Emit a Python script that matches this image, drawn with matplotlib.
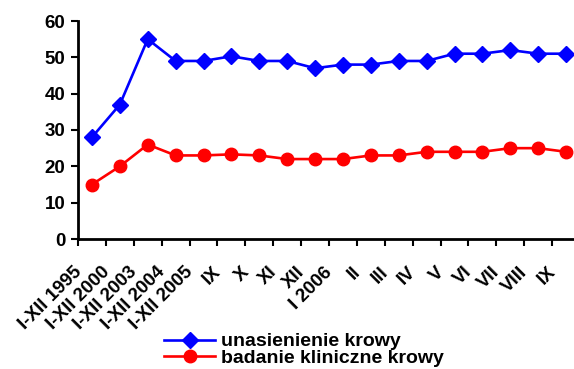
import matplotlib as mpl
mpl.use('Agg')
import matplotlib.pyplot as plt
import matplotlib.transforms as mtransforms
import numpy as np

categories = ['I-XII 1995', 'I-XII 2000', 'I-XII 2003', 'I-XII 2004', 'I-XII 2005',
              'IX', 'X', 'XI', 'XII', 'I 2006', 'II', 'III', 'IV', 'V', 'VI', 'VII', 'VIII', 'IX']
unasienienie = [28, 37, 55, 49, 49, 50.3, 49, 49, 47, 48, 48, 49, 49, 51, 51, 52, 51, 51]
badanie = [15, 20, 26, 23, 23, 23.3, 23, 22, 22, 22, 23, 23, 24, 24, 24, 25, 25, 24]
y_ticks = [0, 10, 20, 30, 40, 50, 60]

plt.rcParams['font.family'] = ['Liberation Sans', 'DejaVu Sans']
plt.rcParams['font.weight'] = 'bold'

fig = plt.figure(figsize=(5.74, 3.69), dpi=100)
ax = fig.add_axes([78 / 574, 1 - 239 / 369, 502 / 574, 218 / 369])

x = np.arange(len(categories))
ax.plot(x, unasienienie, color='#0000ff', lw=1.9, marker='D', ms=8,
        label='unasienienie krowy', clip_on=False)
ax.plot(x, badanie, color='#ff0000', lw=1.9, marker='o', ms=9,
        label='badanie kliniczne krowy', clip_on=False)

ax.set_xlim(-0.5, len(categories) - 0.5)
ax.set_ylim(0, 60)
ax.set_yticks(y_ticks)
ax.set_yticklabels([str(v) for v in y_ticks], fontsize=13.5, fontweight='bold')

# ticks on category boundaries, labels at category centres
ax.set_xticks(np.arange(len(categories) + 1) - 0.5)
ax.set_xticklabels([])
ax.set_xticks(x, minor=True)
ax.set_xticklabels(categories, minor=True, fontsize=13.5, fontweight='bold',
                   rotation=45, ha='right', va='center', rotation_mode='anchor')
ax.tick_params(axis='x', which='minor', length=0, pad=22)
ax.tick_params(axis='x', which='major', direction='out', length=5, width=1.5)
ax.tick_params(axis='y', direction='out', length=5, width=1.5, pad=4)
shift = mtransforms.ScaledTranslation(-13 / 100, 0, fig.dpi_scale_trans)
for lbl in ax.get_xticklabels(minor=True):
    lbl.set_transform(lbl.get_transform() + shift)

for side in ['top', 'right']:
    ax.spines[side].set_visible(False)
for side in ['left', 'bottom']:
    ax.spines[side].set_linewidth(2)

leg = fig.legend(loc='center', bbox_to_anchor=(304 / 574, 1 - 350 / 369), frameon=False,
                 handlelength=2.6, handletextpad=0.3, labelspacing=-0.05,
                 borderpad=0, prop={'weight': 'bold', 'size': 14})

fig.savefig('out.png', dpi=100)
